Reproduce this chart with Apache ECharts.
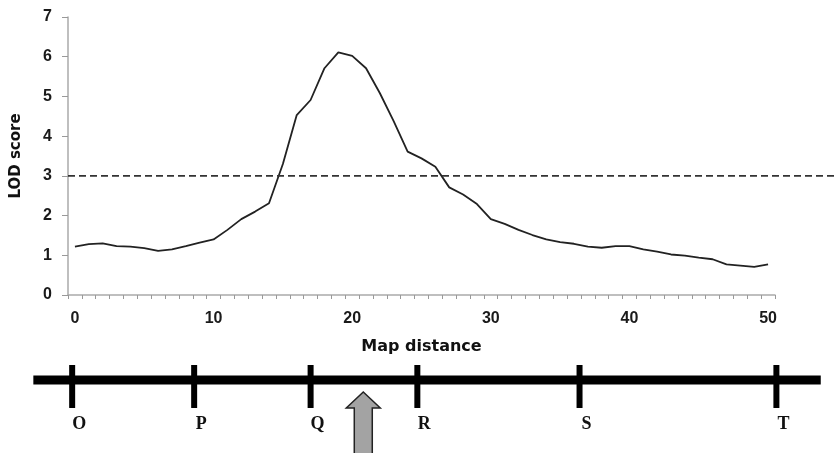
<!DOCTYPE html>
<html>
<head>
<meta charset="utf-8">
<script src="https://cdn.jsdelivr.net/npm/echarts@6/dist/echarts.min.js"></script>
<style>
html, body { margin: 0; padding: 0; background: #fff; }
#chart { width: 834px; height: 453px; }
</style>
</head>
<body>
<div id="chart"></div>
<script>
// map distance categories
const distance = ['0', '1', '2', '3', '4', '5', '6', '7', '8', '9',
	'10', '11', '12', '13', '14', '15', '16', '17', '18', '19',
	'20', '21', '22', '23', '24', '25', '26', '27', '28', '29',
	'30', '31', '32', '33', '34', '35', '36', '37', '38', '39',
	'40', '41', '42', '43', '44', '45', '46', '47', '48', '49', '50']
// LOD score per position
const lodScore = [1.22, 1.28, 1.30, 1.23, 1.22, 1.18, 1.11, 1.15, 1.23, 1.32,
	1.40, 1.64, 1.91, 2.10, 2.31, 3.30, 4.53, 4.91, 5.71, 6.11,
	6.02, 5.71, 5.08, 4.37, 3.61, 3.44, 3.23, 2.71, 2.53, 2.29,
	1.91, 1.79, 1.64, 1.51, 1.40, 1.33, 1.29, 1.22, 1.19, 1.23,
	1.23, 1.15, 1.09, 1.02, 0.99, 0.94, 0.90, 0.77, 0.74, 0.71, 0.77]
// significance threshold
const threshold = 3
// genetic map below the plot
const markerNames = ['O', 'P', 'Q', 'R', 'S', 'T']
const markerPos = [-0.2, 8.6, 17.0, 24.7, 36.4, 50.6]
const chromosomeEnds = [-3.0, 53.8]
const qtlPos = 20.8

const chart = echarts.init(document.getElementById('chart'))

const tickFont = {
	color: '#1a1a1a',
	fontSize: 16,
	fontWeight: 'bold',
	fontFamily: 'Liberation Sans, Arial, sans-serif',
}

const option = {
	animation: false,
	grid: [
		// main plot
		{ left: 68, right: 59, top: 17, bottom: 158 },
		// threshold line (runs to the right edge)
		{ left: 68, right: 0, top: 17, bottom: 158 },
		// genetic map
		{ left: 26.41, right: 3.54, top: 360.5, height: 95 },
	],
	xAxis: [
		{
			type: 'category',
			gridIndex: 0,
			data: distance,
			boundaryGap: true,
			name: 'Map distance',
			nameLocation: 'middle',
			nameGap: 44,
			nameTextStyle: {
				color: '#111',
				fontSize: 16,
				fontWeight: 'bold',
				fontFamily: 'DejaVu Sans, sans-serif',
			},
			axisLine: { lineStyle: { color: '#aaa', width: 1.5 } },
			axisTick: { show: true, interval: 0, length: 4, lineStyle: { color: '#999' } },
			axisLabel: Object.assign({ interval: 9, margin: 16 }, tickFont),
			splitLine: { show: false },
		},
		{ type: 'value', gridIndex: 1, min: 0, max: 1, show: false },
		{ type: 'value', gridIndex: 2, min: -3.5, max: 54.5, show: false },
	],
	yAxis: [
		{
			type: 'value',
			gridIndex: 0,
			min: 0,
			max: 7,
			interval: 1,
			name: 'LOD score',
			nameLocation: 'middle',
			nameGap: 44,
			nameTextStyle: {
				color: '#111',
				fontSize: 15,
				fontWeight: 'bold',
				fontFamily: 'DejaVu Sans, sans-serif',
			},
			axisLine: { show: true, lineStyle: { color: '#aaa', width: 1.5 } },
			axisTick: { show: true, length: 6, lineStyle: { color: '#999' } },
			axisLabel: Object.assign({ margin: 16 }, tickFont),
			splitLine: { show: false },
		},
		{ type: 'value', gridIndex: 1, min: 0, max: 7, show: false },
		{ type: 'value', gridIndex: 2, min: -7.5, max: 2, show: false },
	],
	series: [
		{
			name: 'LOD',
			type: 'line',
			xAxisIndex: 0,
			yAxisIndex: 0,
			symbol: 'none',
			lineStyle: { color: '#222', width: 1.8 },
			data: lodScore,
		},
		{
			name: 'threshold',
			type: 'line',
			xAxisIndex: 1,
			yAxisIndex: 1,
			symbol: 'none',
			lineStyle: { color: '#333', width: 1.8, type: [7, 4] },
			data: [[0, threshold], [1, threshold]],
		},
		{
			name: 'chromosome',
			type: 'line',
			xAxisIndex: 2,
			yAxisIndex: 2,
			symbol: 'none',
			lineStyle: { color: '#000', width: 9, cap: 'butt' },
			data: chromosomeEnds.map(v => [v, 0]),
		},
		{
			name: 'markers',
			type: 'custom',
			xAxisIndex: 2,
			yAxisIndex: 2,
			data: markerPos.map(v => [v, 0]),
			renderItem: function (params, api) {
				const p = api.coord([api.value(0), api.value(1)])
				return {
					type: 'group',
					children: [
						{
							type: 'line',
							shape: { x1: p[0], y1: p[1] - 15, x2: p[0], y2: p[1] + 28 },
							style: { stroke: '#000', lineWidth: 6 },
						},
						{
							type: 'text',
							x: p[0] + 7,
							y: p[1] + 44,
							style: {
								text: markerNames[params.dataIndex],
								fill: '#111',
								fontSize: 18,
								fontWeight: 'bold',
								fontFamily: 'Liberation Serif, serif',
								align: 'center',
								verticalAlign: 'middle',
							},
						},
					],
				}
			},
		},
		{
			name: 'QTL',
			type: 'custom',
			xAxisIndex: 2,
			yAxisIndex: 2,
			z: 5,
			data: [[qtlPos, 0]],
			renderItem: function (params, api) {
				const p = api.coord([api.value(0), api.value(1)])
				const x = p[0]
				const y = p[1]
				return {
					type: 'polygon',
					shape: {
						points: [
							[x, y + 12], [x + 17, y + 28], [x + 9, y + 28], [x + 9, y + 95],
							[x - 9, y + 95], [x - 9, y + 28], [x - 17, y + 28],
						],
					},
					style: { fill: '#a3a3a3', stroke: '#222', lineWidth: 1.5 },
				}
			},
		},
	],
}

chart.setOption(option)
</script>
</body>
</html>
